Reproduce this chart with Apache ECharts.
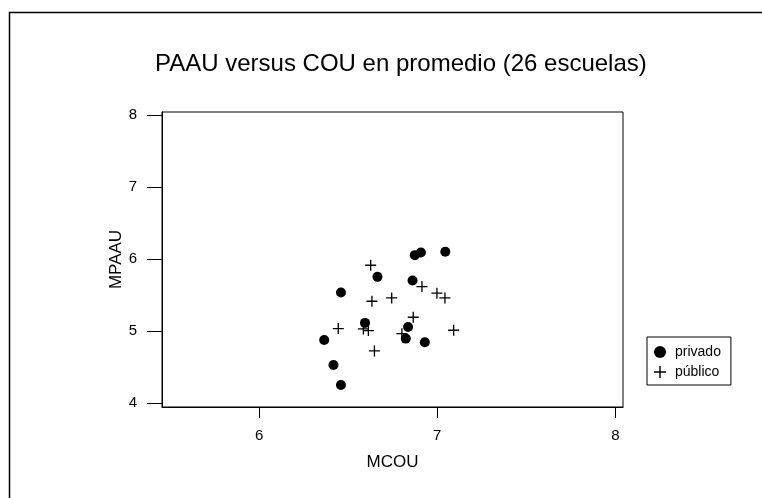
<!DOCTYPE html>
<html>
<head>
<meta charset="utf-8">
<script src="https://cdn.jsdelivr.net/npm/echarts@6/dist/echarts.min.js"></script>
<style>
  html, body { margin: 0; padding: 0; background: #fff; }
  #chart { width: 762px; height: 498px; }
</style>
</head>
<body>
<div id="chart"></div>
<script>
// valores: [MCOU, MPAAU]
var privado = [
    [6.908, 6.093], [6.874, 6.056], [7.045, 6.102], [6.664, 5.754],
    [6.861, 5.703], [6.459, 5.536], [6.594, 5.114], [6.836, 5.058],
    [6.365, 4.877], [6.823, 4.896], [6.930, 4.845], [6.417, 4.529],
    [6.459, 4.251]
];
var publico = [
    [6.626, 5.916], [6.914, 5.619], [6.998, 5.527], [7.043, 5.462],
    [6.744, 5.462], [6.633, 5.415], [6.865, 5.193], [6.444, 5.035],
    [6.585, 5.030], [6.613, 5.007], [6.801, 4.965], [7.092, 5.012],
    [6.647, 4.724]
];
var xTicks = [6, 7, 8];
var yTicks = [4, 5, 6, 7, 8];

var cruz = 'path://M0,4.4H10V5.6H0Z M4.4,0H5.6V10H4.4Z';
var fuente = 'Liberation Sans, Arial, sans-serif';

var myChart = echarts.init(document.getElementById('chart'));
myChart.setOption({
    animation: false,
    backgroundColor: '#fff',
    textStyle: { fontFamily: fuente, color: '#000' },
    title: {
        text: 'PAAU versus COU en promedio (26 escuelas)',
        left: 150,
        top: 47,
        textStyle: { fontSize: 24, fontWeight: 'normal', color: '#000', fontFamily: fuente }
    },
    graphic: [{
        type: 'rect',
        shape: { x: 9.5, y: 12.5, width: 900, height: 700 },
        style: { fill: null, stroke: '#000', lineWidth: 1.5 },
        silent: true
    }],
    grid: {
        left: 162, top: 112, width: 461, height: 295,
        show: true, borderColor: '#000', borderWidth: 1
    },
    xAxis: {
        type: 'value',
        min: 5.454, max: 8.043,
        name: 'MCOU',
        nameLocation: 'middle',
        nameGap: 47,
        nameMoveOverlap: false,
        nameTextStyle: { fontSize: 17, color: '#000' },
        axisLine: { show: true, onZero: false, lineStyle: { color: '#000', width: 1 } },
        axisTick: { show: true, inside: false, length: 11, customValues: xTicks, lineStyle: { color: '#000' } },
        axisLabel: { customValues: xTicks, fontSize: 15, color: '#000', margin: 21 },
        splitLine: { show: false }
    },
    yAxis: {
        type: 'value',
        min: 3.945, max: 8.046,
        name: 'MPAAU',
        nameLocation: 'middle',
        nameGap: 37,
        nameMoveOverlap: false,
        nameTextStyle: { fontSize: 17, color: '#000' },
        axisLine: { show: true, onZero: false, lineStyle: { color: '#000', width: 1 } },
        axisTick: { show: true, inside: false, length: 15, customValues: yTicks, lineStyle: { color: '#000' } },
        axisLabel: { customValues: yTicks, fontSize: 15, color: '#000', margin: 25 },
        splitLine: { show: false }
    },
    legend: {
        orient: 'vertical',
        left: 647, top: 337,
        width: 85,
        padding: [8, 10, 6, 7],
        itemGap: 6,
        itemWidth: 12, itemHeight: 12,
        borderColor: '#000', borderWidth: 1,
        textStyle: { fontSize: 14, color: '#000', padding: [0, 0, 0, 4] },
        data: [
            { name: 'privado', icon: 'circle' },
            { name: 'público', icon: cruz }
        ]
    },
    series: [{
        name: 'privado',
        type: 'scatter',
        symbol: 'circle',
        symbolSize: 10,
        itemStyle: { color: '#000', opacity: 1 },
        data: privado
    }, {
        name: 'público',
        type: 'scatter',
        symbol: cruz,
        symbolSize: 11,
        itemStyle: { color: '#000', opacity: 1 },
        data: publico
    }]
});
</script>
</body>
</html>
